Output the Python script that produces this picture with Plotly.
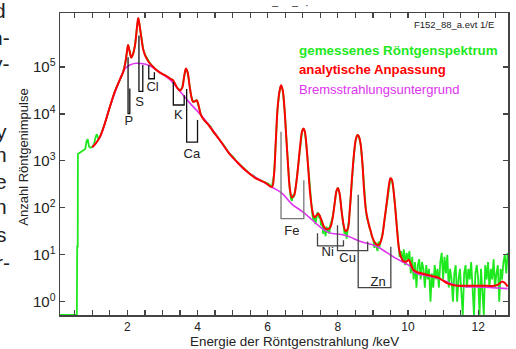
import numpy as np
import plotly.graph_objects as go

# ---------------- data ----------------
# measured spectrum (green), energies in keV, counts per channel
E_meas = [0.08, 0.30, 0.56, 0.57, 0.585, 0.59, 0.65, 0.72, 0.80, 0.84, 0.87, 0.91, 0.95, 1.00, 1.05,
          1.10, 1.13, 1.17, 1.22, 1.36, 1.50, 1.64, 1.78, 1.88, 1.94, 1.98, 2.02, 2.06, 2.11, 2.16,
          2.22, 2.27, 2.31, 2.35, 2.40, 2.45, 2.50, 2.58, 2.66, 2.78, 2.91, 3.05, 3.15, 3.24, 3.30,
          3.36, 3.43, 3.50, 3.56, 3.62, 3.67, 3.72, 3.77, 3.82, 3.87, 3.93, 3.98, 4.04, 4.10, 4.20,
          4.30, 4.38, 4.45, 4.52, 4.60, 4.75, 4.90, 5.00, 5.10, 5.20, 5.30, 5.37, 5.50, 5.60, 5.65,
          5.75, 5.85, 5.94, 6.03, 6.12, 6.18, 6.23, 6.28, 6.33, 6.38, 6.43, 6.48, 6.53, 6.58, 6.63,
          6.66, 6.69, 6.72, 6.75, 6.81, 6.87, 6.93, 6.98, 7.02, 7.06, 7.11, 7.16, 7.21, 7.24, 7.27,
          7.30, 7.33, 7.36, 7.39, 7.42, 7.44, 7.47, 7.49, 7.52, 7.55, 7.58, 7.62, 7.65, 7.68, 7.70,
          7.73, 7.76, 7.78, 7.82, 7.85, 7.91, 7.96, 8.00, 8.05, 8.10, 8.16, 8.19, 8.22, 8.25, 8.28,
          8.31, 8.34, 8.40, 8.46, 8.51, 8.56, 8.60, 8.65, 8.70, 8.75, 8.80, 8.83, 8.86, 8.90, 8.93,
          8.97, 9.01, 9.04, 9.07, 9.10, 9.13, 9.16, 9.18, 9.22, 9.26, 9.30, 9.33, 9.40, 9.45, 9.50,
          9.54, 9.58, 9.63, 9.68,
          9.72, 9.76, 9.80, 9.84, 9.88, 9.92, 9.96, 10.00, 10.04, 10.08, 10.12, 10.16, 10.20, 10.24,
          10.28, 10.32, 10.36, 10.40, 10.44, 10.48, 10.52, 10.56, 10.60, 10.64, 10.68, 10.72, 10.76,
          10.80, 10.84, 10.88, 10.92, 10.96, 11.00, 11.04, 11.08, 11.12, 11.16, 11.20, 11.24, 11.28,
          11.32, 11.36, 11.40, 11.44, 11.48, 11.52, 11.56, 11.60, 11.64, 11.68, 11.72, 11.76, 11.80,
          11.84, 11.88, 11.92, 11.96, 12.00, 12.04, 12.08, 12.12, 12.16, 12.20, 12.24, 12.28, 12.32,
          12.36, 12.40, 12.44, 12.48, 12.52, 12.56, 12.60, 12.64, 12.68, 12.72, 12.76, 12.80, 12.84]
counts_meas = [0, 0, 0, 15, 15, 1400, 1500, 1600, 1800, 2700, 2900, 2000, 1900, 2000, 2300,
               3300, 3700, 3000, 3200, 6400, 14000, 30000, 52000, 78000, 120000, 190000, 300000, 224000, 160000, 186000,
               295000, 660000, 1100000, 760000, 420000, 245000, 185000, 141000, 115000, 93000, 77000, 68000, 62000, 55000, 52000,
               43000, 35500, 31600, 35500, 63000, 93300, 75900, 41700, 24000, 18200, 18600, 19500, 14100, 9300, 7300,
               6000, 5300, 4100, 3700, 3000, 2150, 1450, 1250, 1000, 850, 720, 630, 520, 480, 440,
               400, 370, 345, 320, 280, 500, 2500, 12600, 28000, 41000, 31600, 12600, 3160, 800, 240,
               160, 140, 190, 170, 316, 800, 2240, 4270, 4950, 4170, 1900, 630, 200, 120, 75,
               55, 68, 45, 70, 80, 76, 60, 70, 42, 55, 28, 38, 25, 40, 30,
               38, 28, 42, 50, 62, 126, 229, 270, 200, 95, 45, 28, 34, 22, 36,
               50, 89, 400, 1410, 2820, 3600, 3310, 2240, 890, 224, 89, 60, 52, 38, 33,
               24, 21, 14, 18, 15, 12, 19, 14, 20, 24, 38, 56, 141, 282, 430,
               398, 263, 112, 40,
               14, 9, 12, 7, 13, 6, 11, 8, 12, 4, 9, 3, 7, 2,
               6, 8, 3, 7, 5, 2, 6, 3, 5, 1, 4, 2, 6,
               3, 5, 2, 7, 11, 3, 9, 4, 10, 2, 5, 3, 1,
               4, 6, 1, 3, 5, 2, 0, 4, 6, 2, 5, 3, 7,
               2, 0, 4, 6, 3, 0, 5, 2, 0, 6, 3, 7, 2,
               5, 3, 8, 2, 4, 6, 1, 5, 3, 7, 10, 4, 11]

# analytical fit (red)
E_fit = [1.00, 1.10, 1.22, 1.36, 1.50, 1.64, 1.78, 1.88, 1.94, 1.98, 2.02, 2.06, 2.11, 2.16, 2.22,
         2.27, 2.31, 2.35, 2.40, 2.45, 2.50, 2.58, 2.66, 2.78, 2.91, 3.05, 3.15, 3.24, 3.30, 3.36,
         3.43, 3.50, 3.56, 3.62, 3.67, 3.72, 3.77, 3.82, 3.87, 3.93, 3.98, 4.04, 4.10, 4.20, 4.30,
         4.45, 4.60, 4.75, 4.90, 5.10, 5.37, 5.65, 5.94, 6.12, 6.18, 6.23, 6.28, 6.33, 6.38, 6.43,
         6.48, 6.53, 6.58, 6.63, 6.69, 6.75, 6.81, 6.87, 6.93, 6.98, 7.02, 7.06, 7.11, 7.16, 7.21,
         7.27, 7.33, 7.39, 7.44, 7.49, 7.55, 7.62, 7.70, 7.78, 7.85, 7.91, 7.96, 8.00, 8.05, 8.10,
         8.16, 8.22, 8.28, 8.34, 8.40, 8.46, 8.51, 8.56, 8.60, 8.65, 8.70, 8.75, 8.80, 8.86, 8.93,
         9.01, 9.10, 9.18, 9.26, 9.33, 9.40, 9.45, 9.50, 9.54, 9.58, 9.63, 9.68, 9.74, 9.80, 9.88,
         9.96, 10.02, 10.08, 10.15, 10.25, 10.40, 10.56, 10.70, 10.85, 11.00, 11.13, 11.30, 11.45, 11.80, 12.10,
         12.45, 12.58, 12.68, 12.76, 12.84]
fit = [1950, 2350, 3240, 6300, 14100, 29500, 52500, 77600, 120000, 190000, 295000, 224000, 158000, 186000, 295000,
       660000, 1100000, 760000, 417000, 240000, 182000, 138000, 115000, 93000, 77600, 67600, 61700, 55000, 52500, 43600,
       35500, 31600, 35500, 63000, 93300, 75900, 41700, 24000, 18200, 18600, 19500, 14100, 9300, 7200, 6000,
       4200, 3000, 2100, 1450, 1000, 630, 430, 340, 280, 500, 2500, 12600, 28000, 40700, 31600,
       12600, 3160, 800, 263, 166, 182, 316, 800, 2240, 4270, 4900, 4170, 1900, 630, 200,
       89, 63, 69, 76, 66, 50, 38, 35, 38, 60, 126, 229, 263, 200, 95,
       45, 32, 35, 89, 400, 1410, 2820, 3550, 3310, 2240, 890, 224, 89, 52, 33,
       21, 16.6, 16.6, 24, 56, 141, 282, 427, 398, 263, 112, 40, 14, 8.9, 7.2,
       7.2, 7.8, 6.3, 4.8, 4.3, 4.0, 3.7, 3.5, 3.3, 2.8, 2.45, 2.24, 2.19, 2.19, 2.19,
       2.19, 2.34, 2.7, 2.5, 2.1]

# Bremsstrahlung background (magenta)
E_bg = [1.00, 1.22, 1.50, 1.78, 1.92, 2.07, 2.25, 2.45, 2.63, 2.91, 3.20, 3.48, 3.77, 4.14, 4.52,
        4.90, 5.37, 5.94, 6.12, 6.41, 6.69, 6.97, 7.16, 7.45, 7.73, 8.20, 8.67, 8.96, 9.15, 9.62,
        10.09, 10.19, 10.85, 11.41, 12.20, 12.84]
bg = [1950, 3240, 14100, 52500, 89000, 110000, 120000, 117000, 107000, 77600, 55000, 31600, 17400, 8700, 3700,
      1450, 617, 331, 275, 204, 120, 85, 65, 42, 30, 26, 19, 16.6, 14.5, 8.7,
      5.5, 4.2, 3.16, 2.19, 2.04, 1.9]

# element line markers
elements = ["P", "S", "Cl", "K", "Ca", "Fe", "Ni", "Cu", "Zn"]
line_Ka = [2.02, 2.33, 2.61, 3.31, 3.69, 6.38, 7.42, 7.99, 8.58]
line_Kb = [2.07, 2.44, 2.77, 3.62, 4.00, 7.03, 8.16, 8.85, 9.51]
top_Ka = [162000, 468000, 110000, 47900, 33900, 4170, 28.8, 42.7, 190]
top_Kb = [34700, 110000, 77600, 25100, 7400, 389, 20.4, 19.1, 14.8]
bottom = [10200, 30200, 56200, 15500, 2510, 59, 15.5, 12.3, 2.0]
label_x = [2.045, 2.35, 2.72, 3.45, 3.84, 6.69, 7.71, 8.28, 9.15]
label_y = [6760, 17000, 36300, 9330, 1380, 31, 11, 8.3, 2.5]
marker_color = ["#111111"] * 5 + ["#777777", "#444444", "#444444", "#444444"]

x_ticks = [2, 4, 6, 8, 10, 12]
y_ticks = [1, 10, 100, 1000, 10000, 100000]
y_ticktext = ["10<sup>0</sup>", "10<sup>1</sup>", "10<sup>2</sup>", "10<sup>3</sup>", "10<sup>4</sup>", "10<sup>5</sup>"]

# ---------------- figure ----------------
W, H = 516, 349
L, R, T, B = 60, 6, 13, 34
ylo, yhi = -0.283, 6.15
FONT = "Liberation Sans, Arial, sans-serif"

fig = go.Figure()

green_plot = np.maximum(np.array(counts_meas, dtype=float), 10 ** ylo)
fig.add_trace(go.Scatter(x=E_meas, y=green_plot, mode="lines",
                         line=dict(color="#1ee81e", width=1.8), hoverinfo="skip"))
fig.add_trace(go.Scatter(x=E_bg, y=bg, mode="lines", line_shape="spline",
                         line=dict(color="#dd33ee", width=1.6), hoverinfo="skip"))
fig.add_trace(go.Scatter(x=E_fit, y=fit, mode="lines", line_shape="spline",
                         line=dict(color="#ff0000", width=2), hoverinfo="skip"))

for i, el in enumerate(elements):
    fig.add_trace(go.Scatter(x=[line_Ka[i], line_Ka[i], line_Kb[i], line_Kb[i]],
                             y=[top_Ka[i], bottom[i], bottom[i], top_Kb[i]],
                             mode="lines", line=dict(color=marker_color[i], width=1.3),
                             hoverinfo="skip"))
fig.add_trace(go.Scatter(x=label_x, y=label_y, mode="text", text=elements,
                         textfont=dict(family=FONT, size=13, color="#222222"), hoverinfo="skip"))

def px(xp):
    return (xp - L) / (W - L - R)

def py(yp):
    return (H - B - yp) / (H - T - B)

ann = []
ann.append(dict(text="gemessenes Röntgenspektrum", x=px(298), y=py(51), xanchor="left", yanchor="middle",
                font=dict(family=FONT, size=13.4, color="#1ee81e", weight="bold")))
ann.append(dict(text="analytische Anpassung", x=px(298), y=py(70), xanchor="left", yanchor="middle",
                font=dict(family=FONT, size=13.2, color="#ff0000", weight="bold")))
ann.append(dict(text="Bremsstrahlungsuntergrund", x=px(298), y=py(89.5), xanchor="left", yanchor="middle",
                font=dict(family=FONT, size=13, color="#dd33ee")))
ann.append(dict(text="F152_88_a.evt 1/E", x=px(498), y=py(25), xanchor="right", yanchor="middle",
                font=dict(family=FONT, size=9.5, color="#222222")))
ann.append(dict(text="Anzahl Röntgenimpulse", x=px(23), y=py(157.5), xanchor="center", yanchor="middle",
                textangle=-90, font=dict(family=FONT, size=13, color="#222222")))
ann.append(dict(text="Energie der Röntgenstrahlung /keV", x=px(296), y=py(342), xanchor="center", yanchor="middle",
                font=dict(family=FONT, size=13.4, color="#222222")))
# cropped page text fragments at the left and top edges
frag = [("d", 8, 10), ("n-", 12, 38), ("y-", 12, 64), ("y", 9, 131), ("n", 9, 154), ("e", 9, 181),
        ("n", 9, 206), ("s", 9, 234), ("r-", 12, 262)]
for t, xr, yc in frag:
    ann.append(dict(text=t, x=px(xr), y=py(yc), xanchor="right", yanchor="middle",
                    font=dict(family=FONT, size=21, color="#222222")))
for t, xc in [("–", 276), ("–", 297), ("·", 308)]:
    ann.append(dict(text=t, x=px(xc), y=py(5), xanchor="center", yanchor="middle",
                    font=dict(family=FONT, size=11, color="#333333")))
for a in ann:
    a.update(xref="paper", yref="paper", showarrow=False)

axis_common = dict(showline=True, linecolor="#444444", linewidth=1.5, mirror="ticks",
                   ticks="inside", tickcolor="#444444", ticklen=5, tickwidth=1.2,
                   showgrid=False, zeroline=False)

fig.update_layout(
    width=W, height=H,
    margin=dict(l=L, r=R, t=T, b=B, pad=0),
    paper_bgcolor="white", plot_bgcolor="white",
    showlegend=False,
    font=dict(family=FONT, color="#222222"),
    annotations=ann,
    xaxis=dict(range=[0.08, 12.85], tickvals=x_ticks, ticktext=[str(v) for v in x_ticks],
               tickfont=dict(family=FONT, size=12, color="#222222"),
               minor=dict(dtick=0.5, tick0=0, ticks="inside", ticklen=5, tickcolor="#444444", tickwidth=1.2),
               **axis_common),
    yaxis=dict(type="log", range=[ylo, yhi], tickvals=y_ticks, ticktext=y_ticktext,
               tickfont=dict(family=FONT, size=15, color="#222222"), ticklabelstandoff=0,
               **axis_common),
)

fig.write_html("out.html", config={"displayModeBar": False, "staticPlot": True},
               post_script="document.body.style.margin='0px';document.body.style.overflow='hidden';")
